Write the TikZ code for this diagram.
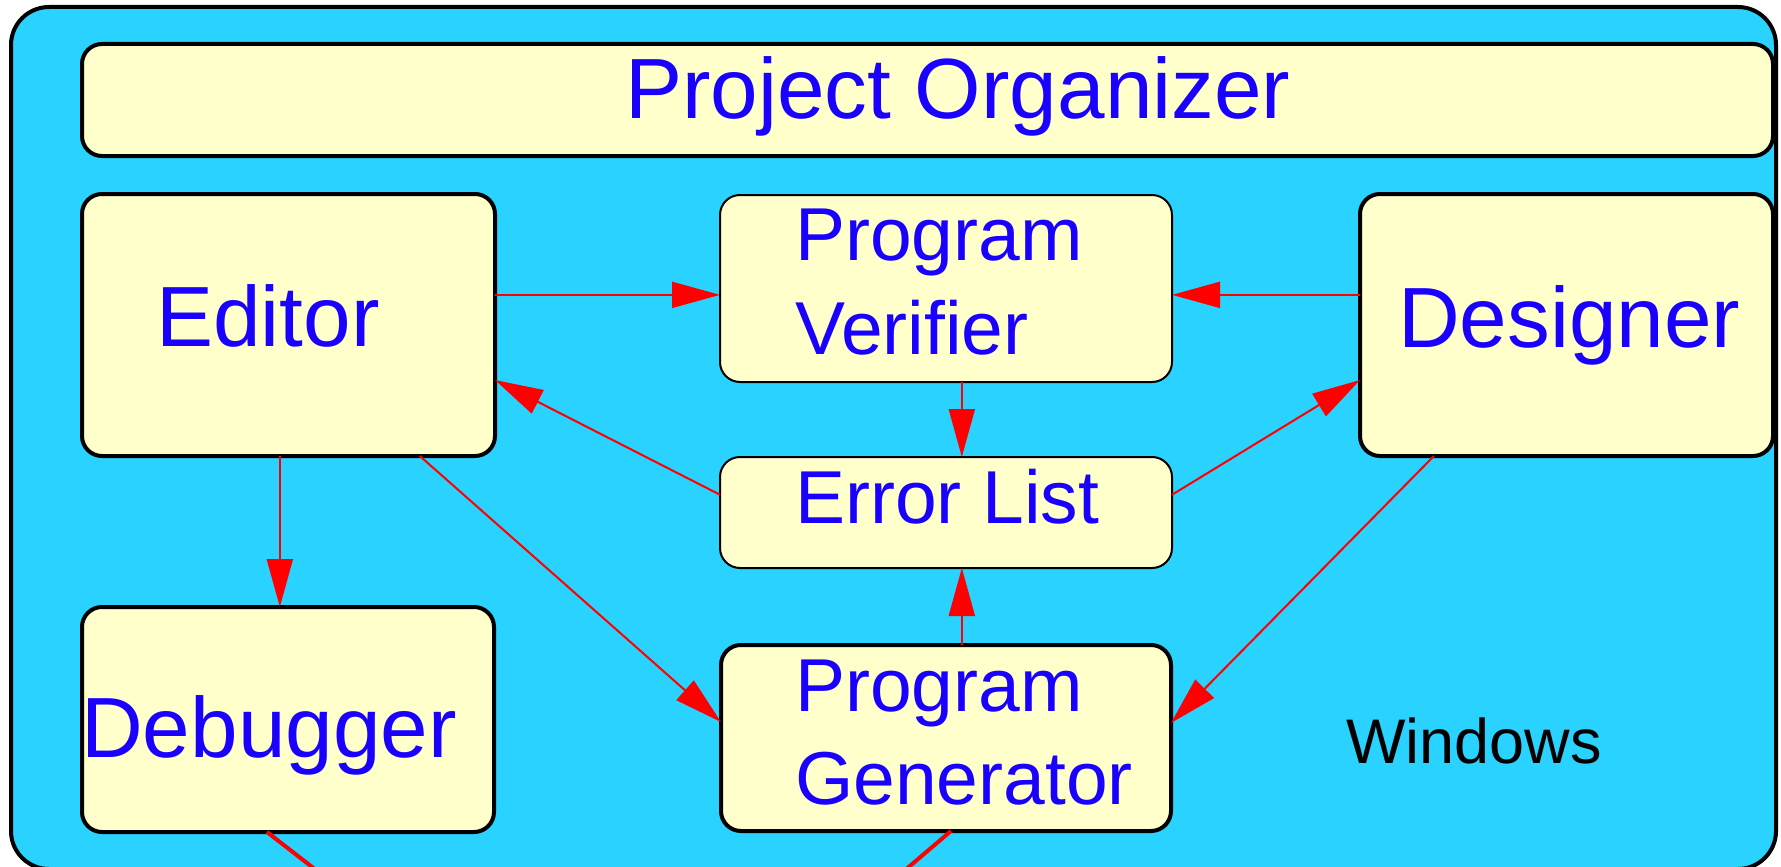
\documentclass[tikz,border=0pt]{standalone}
\usepackage{fontspec}
\setmainfont{Liberation Sans}
\usetikzlibrary{arrows.meta,calc}
\definecolor{cyanbg}{RGB}{41,210,255}
\definecolor{yelbox}{RGB}{255,255,204}
\definecolor{bluetxt}{RGB}{26,0,255}
\tikzset{
  bigbox/.style={draw=black, line width=4pt, fill=yelbox, rounded corners=20pt, inner sep=0pt, outer sep=0pt},
  thinbox/.style={draw=black, line width=2pt, fill=yelbox, rounded corners=20pt, inner sep=0pt, outer sep=0pt},
  biglbl/.style={text=bluetxt, font=\fontsize{85.5}{85.5}\selectfont, inner sep=0pt, anchor=base west},
  midlbl/.style={text=bluetxt, font=\fontsize{75}{75}\selectfont, inner sep=0pt, anchor=base west},
  winlbl/.style={text=black, font=\fontsize{63}{63}\selectfont, inner sep=0pt, anchor=base west},
  conn/.style={draw=red, line width=2pt, -{Triangle[length=48pt, width=26pt]}},
  exitline/.style={draw=red, line width=4pt}
}
\begin{document}
\begin{tikzpicture}[x=1pt, y=-1pt]
\clip (0,0) rectangle (1781,867);
% outer window
\node[draw=black, line width=4pt, fill=cyanbg, rounded corners=38pt, inner sep=0pt, outer sep=0pt,
      minimum width=1765pt, minimum height=862pt] (outer) at (893.5,438) {};
% boxes
\node[bigbox, minimum width=1691pt, minimum height=112pt] (po) at (927.5,100) {};
\node[bigbox, minimum width=413pt, minimum height=262pt] (editor) at (288.5,325) {};
\node[thinbox, minimum width=452pt, minimum height=187pt] (verifier) at (946,288.5) {};
\node[bigbox, minimum width=413pt, minimum height=262pt] (designer) at (1566.5,325) {};
\node[thinbox, minimum width=452pt, minimum height=111pt] (errlist) at (946,512.5) {};
\node[bigbox, minimum width=412pt, minimum height=225pt] (debugger) at (288,719.5) {};
\node[bigbox, minimum width=450pt, minimum height=186pt] (generator) at (946,738) {};
% texts
\node[biglbl] (potxt) at (625,118) {Project Organizer};
\node[biglbl] (edtxt) at (156,346) {Editor};
\node[biglbl] (destxt) at (1398,347) {Designer};
\node[biglbl] (dbgtxt) at (81,757) {Debugger};
\node[midlbl] (vertxtA) at (795,260) {Program};
\node[midlbl] (vertxtB) at (795,354) {Verifier};
\node[midlbl] (errtxt) at (795,523) {Error List};
\node[midlbl] (gentxtA) at (795,711) {Program};
\node[midlbl] (gentxtB) at (795,804) {Generator};
\node[winlbl] (wintxt) at (1346,763) {Windows};
% connection points
\coordinate (e1) at ($(editor.north east)!0.385!(editor.south east)$);
\coordinate (v1) at ($(verifier.south west)!0.535!(verifier.south east)$);
\coordinate (el) at ($(errlist.north west)!0.34!(errlist.south west)$);
\coordinate (er) at ($(errlist.north east)!0.34!(errlist.south east)$);
\coordinate (edin) at ($(editor.north east)!0.71!(editor.south east)$);
\coordinate (desin) at ($(designer.north west)!0.71!(designer.south west)$);
\coordinate (edb1) at ($(editor.south west)!0.479!(editor.south east)$);
\coordinate (edb2) at ($(editor.south west)!0.818!(editor.south east)$);
\coordinate (desb) at ($(designer.south west)!0.179!(designer.south east)$);
\coordinate (genl) at ($(generator.north west)!0.414!(generator.south west)$);
\coordinate (genr) at ($(generator.north east)!0.419!(generator.south east)$);
\coordinate (dbgb) at ($(debugger.south west)!0.449!(debugger.south east)$);
\coordinate (genb) at ($(generator.south west)!0.511!(generator.south east)$);
\coordinate (dbgexit) at (325,877);
\coordinate (genexit) at (897,877);
% connectors
\draw[conn] (e1) -- (verifier.west |- e1);
\draw[conn] (designer.west |- e1) -- (verifier.east |- e1);
\draw[conn] (v1) -- (errlist.north -| v1);
\draw[conn] (el) -- (edin);
\draw[conn] (er) -- (desin);
\draw[conn] (generator.north -| v1) -- (errlist.south -| v1);
\draw[conn] (edb1) -- (debugger.north -| edb1);
\draw[conn] (edb2) -- (genl);
\draw[conn] (desb) -- (genr);
\draw[exitline] (dbgb) -- (dbgexit);
\draw[exitline] (genb) -- (genexit);
\end{tikzpicture}
\end{document}
